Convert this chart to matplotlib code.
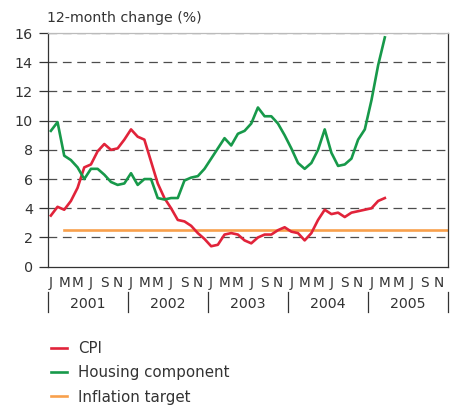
import matplotlib.pyplot as plt
import numpy as np

# Monthly data, Jan 2001 - Mar 2005 (12-month change, %)
cpi = [3.5, 4.1, 3.9, 4.5, 5.4, 6.8, 7.0, 7.9, 8.4, 8.0, 8.1, 8.7,
       9.4, 8.9, 8.7, 7.2, 5.7, 4.7, 4.0, 3.2, 3.1, 2.8, 2.3, 1.9,
       1.4, 1.5, 2.2, 2.3, 2.2, 1.8, 1.6, 2.0, 2.2, 2.2, 2.5, 2.7,
       2.4, 2.3, 1.8, 2.3, 3.2, 3.9, 3.6, 3.7, 3.4, 3.7, 3.8, 3.9,
       4.0, 4.5, 4.7]
housing = [9.3, 9.9, 7.6, 7.3, 6.8, 6.0, 6.7, 6.7, 6.3, 5.8, 5.6, 5.7,
           6.4, 5.6, 6.0, 6.0, 4.7, 4.6, 4.7, 4.7, 5.9, 6.1, 6.2, 6.7,
           7.4, 8.1, 8.8, 8.3, 9.1, 9.3, 9.8, 10.9, 10.3, 10.3, 9.8, 9.0,
           8.1, 7.1, 6.7, 7.1, 8.0, 9.4, 7.8, 6.9, 7.0, 7.4, 8.7, 9.4,
           11.4, 13.8, 15.7]
target_value = 2.5
target_start = 2   # March 2001
years = ["2001", "2002", "2003", "2004", "2005"]
month_labels = ["J", "M", "M", "J", "S", "N"]

n_months = 12 * len(years)
x = np.arange(len(cpi)) + 0.5

red = "#E1233A"
green = "#17994A"
orange = "#F8A04C"

fig = plt.figure(figsize=(4.5, 4.05), dpi=100)
ax = fig.add_axes([0.1056, 0.3415, 0.8906, 0.577])

for v in range(2, 17, 2):
    ax.axhline(v, color="#4d4d4d", lw=0.9, dashes=(7, 4.5), zorder=1)

l1, = ax.plot(x, cpi, color=red, lw=1.9, zorder=3, label="CPI")
l2, = ax.plot(x, housing, color=green, lw=1.9, zorder=3, label="Housing component")
l3, = ax.plot([target_start + 0.5, n_months], [target_value, target_value],
              color=orange, lw=1.9, zorder=2, label="Inflation target")

ax.set_xlim(0, n_months)
ax.set_ylim(0, 16)
ax.set_yticks(range(0, 17, 2))
ax.tick_params(axis="y", length=6.5, width=0.9, color="#333333", labelsize=10.3,
               labelcolor="#333333", pad=4)

ticks = []
labels = []
for y in range(len(years)):
    for k, m in enumerate(month_labels):
        ticks.append(12 * y + 2 * k + 0.5)
        labels.append(m)
ax.set_xticks(ticks)
ax.set_xticklabels(labels)
ax.tick_params(axis="x", length=0, labelsize=9.8, labelcolor="#333333", pad=7)

for s in ["left", "bottom", "right"]:
    ax.spines[s].set_color("#333333")
    ax.spines[s].set_linewidth(0.9)
ax.spines["top"].set_color("#bbbbbb")
ax.spines["top"].set_linewidth(0.9)

for i, yr in enumerate(years):
    ax.text(12 * i + 6, -0.16, yr, transform=ax.get_xaxis_transform(),
            ha="center", va="center", fontsize=10.2, color="#333333")
for i in range(len(years) + 1):
    ax.plot([12 * i, 12 * i], [-0.107, -0.195], transform=ax.get_xaxis_transform(),
            color="#333333", lw=0.9, clip_on=False)

fig.text(0.104, 0.955, "12-month change (%)", ha="left", va="center",
         fontsize=10.2, color="#333333")

fig.legend(handles=[l1, l2, l3], loc="upper left", bbox_to_anchor=(0.113, 0.158),
           frameon=False, fontsize=10.8, handlelength=1.05, handletextpad=0.75,
           labelspacing=0.62, labelcolor="#333333", borderaxespad=0, borderpad=0)

fig.savefig("out.png", dpi=100)
